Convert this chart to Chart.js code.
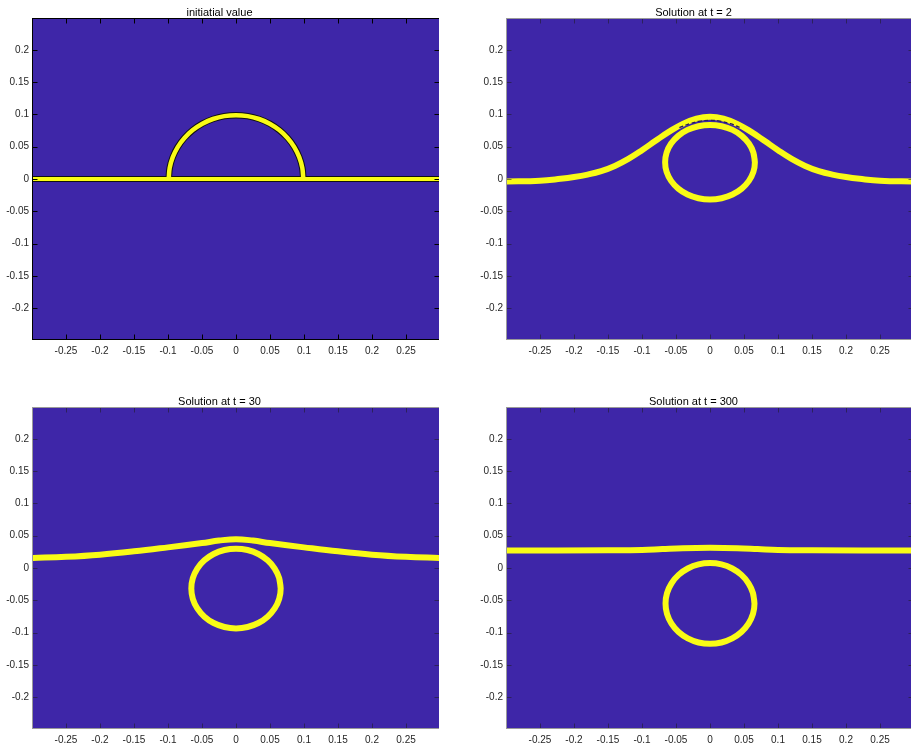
<!DOCTYPE html>
<html>
<head>
<meta charset="utf-8">
<script src="https://cdn.jsdelivr.net/npm/chart.js@4.4.1/dist/chart.umd.min.js"></script>
<style>
html,body{margin:0;padding:0;background:#fff;width:911px;height:747px;overflow:hidden;position:relative}
.p{position:absolute;width:439px;height:369px}
canvas{display:block}
</style>
</head>
<body>
<div class="p" style="left:0;top:0"><canvas id="c1" width="439" height="369"></canvas></div>
<div class="p" style="left:474px;top:0"><canvas id="c2" width="439" height="369"></canvas></div>
<div class="p" style="left:0;top:389px"><canvas id="c3" width="439" height="369"></canvas></div>
<div class="p" style="left:474px;top:389px"><canvas id="c4" width="439" height="369"></canvas></div>
<script>
// ---------- data ----------
const TITLES = ['initiatial value', 'Solution at t = 2', 'Solution at t = 30', 'Solution at t = 300'];
const X_TICKS = [-0.25, -0.2, -0.15, -0.1, -0.05, 0, 0.05, 0.1, 0.15, 0.2, 0.25];
const X_TICK_LABELS = ['-0.25', '-0.2', '-0.15', '-0.1', '-0.05', '0', '0.05', '0.1', '0.15', '0.2', '0.25'];
const Y_TICKS = [-0.2, -0.15, -0.1, -0.05, 0, 0.05, 0.1, 0.15, 0.2];
const Y_TICK_LABELS = ['-0.2', '-0.15', '-0.1', '-0.05', '0', '0.05', '0.1', '0.15', '0.2'];
const X_LIMITS = [-0.2985, 0.2985];
const Y_LIMITS = [-0.248, 0.248];

// panel 1: flat interface plus half-disc cap
const P1_INTERFACE = [[-0.3, 0], [0.3, 0]];
const P1_CAP = [[0.099, 0], [0.0975, 0.0172], [0.093, 0.0339], [0.0857, 0.0495], [0.0758, 0.0636],
  [0.0636, 0.0758], [0.0495, 0.0857], [0.0339, 0.093], [0.0172, 0.0975], [0, 0.099],
  [-0.0172, 0.0975], [-0.0339, 0.093], [-0.0495, 0.0857], [-0.0636, 0.0758], [-0.0758, 0.0636],
  [-0.0857, 0.0495], [-0.093, 0.0339], [-0.0975, 0.0172], [-0.099, 0]];

// panel 2: t = 2
const P2_INTERFACE = [[-0.3, -0.004], [-0.25, -0.0027], [-0.22, 0.0003], [-0.2, 0.003], [-0.18, 0.0068],
  [-0.16, 0.0122], [-0.14, 0.0203], [-0.12, 0.0312], [-0.1, 0.0446], [-0.08, 0.0592], [-0.06, 0.0734],
  [-0.04, 0.0855], [-0.02, 0.0936], [0, 0.0965], [0.02, 0.0936], [0.04, 0.0855], [0.06, 0.0734],
  [0.08, 0.0592], [0.1, 0.0446], [0.12, 0.0312], [0.14, 0.0203], [0.16, 0.0122], [0.18, 0.0068],
  [0.2, 0.003], [0.22, 0.0003], [0.25, -0.0027], [0.3, -0.004]];
const P2_DROP = [[0.066, 0.026], [0.0638, 0.041], [0.0572, 0.0549], [0.0467, 0.0669], [0.033, 0.0761],
  [0.0171, 0.0818], [0, 0.0838], [-0.0171, 0.0818], [-0.033, 0.0761], [-0.0467, 0.0669],
  [-0.0572, 0.0549], [-0.0638, 0.041], [-0.066, 0.026], [-0.0638, 0.011], [-0.0572, -0.0029],
  [-0.0467, -0.0149], [-0.033, -0.0241], [-0.0171, -0.0298], [0, -0.0318], [0.0171, -0.0298],
  [0.033, -0.0241], [0.0467, -0.0149], [0.0572, -0.0029], [0.0638, 0.011], [0.066, 0.026],
  [0.0638, 0.041]];
const P2_GAP = [[-0.045, 0.0795], [-0.03, 0.0857], [-0.015, 0.0897], [0, 0.0908], [0.015, 0.0897],
  [0.03, 0.0857], [0.045, 0.0795]];

// panel 3: t = 30
const P3_INTERFACE = [[-0.3, 0.0155], [-0.25, 0.0174], [-0.2, 0.0207], [-0.15, 0.0258], [-0.1, 0.032],
  [-0.05, 0.0386], [-0.025, 0.0425], [0, 0.0447], [0.025, 0.0425], [0.05, 0.0386], [0.1, 0.032],
  [0.15, 0.0258], [0.2, 0.0207], [0.25, 0.0174], [0.3, 0.0155]];
const P3_DROP = [[0.0657, -0.0318], [0.0635, -0.0158], [0.0569, -0.0009], [0.0465, 0.0119], [0.0329, 0.0217],
  [0.017, 0.0279], [0, 0.03], [-0.017, 0.0279], [-0.0329, 0.0217], [-0.0465, 0.0119],
  [-0.0569, -0.0009], [-0.0635, -0.0158], [-0.0657, -0.0318], [-0.0635, -0.0478], [-0.0569, -0.0627],
  [-0.0465, -0.0755], [-0.0329, -0.0853], [-0.017, -0.0915], [0, -0.0936], [0.017, -0.0915],
  [0.0329, -0.0853], [0.0465, -0.0755], [0.0569, -0.0627], [0.0635, -0.0478], [0.0657, -0.0318],
  [0.0635, -0.0158]];

// panel 4: t = 300
const P4_INTERFACE = [[-0.3, 0.0273], [-0.15, 0.0274], [-0.1, 0.0278], [-0.07, 0.0293], [-0.04, 0.0307],
  [0, 0.0312], [0.04, 0.0307], [0.07, 0.0293], [0.1, 0.0278], [0.15, 0.0274], [0.3, 0.0273]];
const P4_DROP = [[0.0654, -0.055], [0.0632, -0.0388], [0.0566, -0.0237], [0.0462, -0.0107], [0.0327, -0.0008],
  [0.0169, 0.0055], [0, 0.0076], [-0.0169, 0.0055], [-0.0327, -0.0008], [-0.0462, -0.0107],
  [-0.0566, -0.0237], [-0.0632, -0.0388], [-0.0654, -0.055], [-0.0632, -0.0712], [-0.0566, -0.0863],
  [-0.0462, -0.0993], [-0.0327, -0.1092], [-0.0169, -0.1155], [0, -0.1176], [0.0169, -0.1155],
  [0.0327, -0.1092], [0.0462, -0.0993], [0.0566, -0.0863], [0.0632, -0.0712], [0.0654, -0.055],
  [0.0632, -0.0388]];

// ---------- styling / chart construction ----------
const BLUE = '#3e26a8';
const YELLOW = '#f9fb15';
const TEXT = '#262626';
Chart.defaults.font.family = '"Liberation Sans", Arial, Helvetica, sans-serif';
Chart.defaults.color = TEXT;

function pts(a) { return a.map(p => ({x: p[0], y: p[1]})); }
function curve(arr, color, width, extra) {
  return Object.assign({
    data: pts(arr), showLine: true, borderColor: color, backgroundColor: color,
    borderWidth: width, pointRadius: 0, pointHoverRadius: 0, fill: false, clip: 0,
    borderJoinStyle: 'round', borderCapStyle: 'butt', tension: 0, order: 0
  }, extra || {});
}

const framePlugin = {
  id: 'frame',
  beforeDatasetsDraw(chart, args, opts) {
    const {ctx, chartArea: a} = chart;
    ctx.save();
    ctx.fillStyle = opts.background;
    ctx.fillRect(a.left, a.top, a.right - a.left, a.bottom - a.top);
    ctx.restore();
  },
  afterDatasetsDraw(chart, args, opts) {
    const {ctx, chartArea: a, scales: {x, y}} = chart;
    const L = 4.5;
    ctx.save();
    ctx.lineWidth = 1;
    ctx.strokeStyle = opts.tickColor;
    ctx.beginPath();
    x.ticks.forEach(t => {
      const px = Math.round(x.getPixelForValue(t.value)) + 0.5;
      ctx.moveTo(px, a.bottom); ctx.lineTo(px, a.bottom - L);
      ctx.moveTo(px, a.top); ctx.lineTo(px, a.top + L);
    });
    y.ticks.forEach(t => {
      const py = Math.round(y.getPixelForValue(t.value)) + 0.5;
      ctx.moveTo(a.left, py); ctx.lineTo(a.left + L, py);
      ctx.moveTo(a.right, py); ctx.lineTo(a.right - L, py);
    });
    ctx.stroke();
    ctx.strokeStyle = opts.boxColor;
    ctx.strokeRect(Math.round(a.left) - 0.5, Math.round(a.top) - 0.5,
      Math.round(a.right - a.left) + 1, Math.round(a.bottom - a.top) + 1);
    ctx.restore();
  }
};

function makeChart(id, title, datasets, boxColor, tickColor) {
  return new Chart(document.getElementById(id), {
    type: 'scatter',
    data: {datasets},
    plugins: [framePlugin],
    options: {
      responsive: false,
      devicePixelRatio: 1,
      animation: false,
      events: [],
      layout: {padding: 0},
      plugins: {
        legend: {display: false},
        tooltip: {enabled: false},
        title: {
          display: true, text: title, color: '#000',
          font: {size: 11, weight: 'normal', lineHeight: 1},
          padding: {top: 7, bottom: 1}
        },
        frame: {background: BLUE, boxColor, tickColor}
      },
      scales: {
        x: {
          type: 'linear', position: 'bottom', min: X_LIMITS[0], max: X_LIMITS[1],
          grid: {display: false, drawTicks: false}, border: {display: false},
          afterBuildTicks: s => { s.ticks = X_TICKS.map(v => ({value: v})); },
          afterFit: s => { s.height = 30; },
          ticks: {
            autoSkip: false, maxRotation: 0, minRotation: 0, padding: 6, color: TEXT,
            font: {size: 10}, callback: (v, i) => X_TICK_LABELS[i]
          }
        },
        y: {
          type: 'linear', position: 'left', min: Y_LIMITS[0], max: Y_LIMITS[1],
          grid: {display: false, drawTicks: false}, border: {display: false},
          afterBuildTicks: s => { s.ticks = Y_TICKS.map(v => ({value: v})); },
          afterFit: s => { s.width = 33; },
          ticks: {
            autoSkip: false, padding: 4, color: TEXT,
            font: {size: 10}, callback: (v, i) => Y_TICK_LABELS[i]
          }
        }
      }
    }
  });
}

const LOOP_T = 0.335;
const LOOP = {tension: LOOP_T, borderCapStyle: 'round'};
const SMOOTH = {tension: 0.4};

makeChart('c1', TITLES[0], [
  curve(P1_INTERFACE, YELLOW, 4, {order: 0}),
  curve(P1_CAP, YELLOW, 4.5, {order: 0, tension: LOOP_T}),
  curve(P1_INTERFACE, '#111111', 6, {order: 1}),
  curve(P1_CAP, '#111111', 6.5, {order: 1, tension: LOOP_T})
], '#000000', '#000000');

makeChart('c2', TITLES[1], [
  curve(P2_GAP, '#241c5e', 1.3, Object.assign({order: -1, borderDash: [4, 2.5]}, SMOOTH)),
  curve(P2_INTERFACE, YELLOW, 6, SMOOTH),
  curve(P2_DROP, YELLOW, 6, LOOP)
], '#9a9a9a', 'rgba(30,30,30,0.55)');

makeChart('c3', TITLES[2], [
  curve(P3_INTERFACE, YELLOW, 6, SMOOTH),
  curve(P3_DROP, YELLOW, 6, LOOP)
], '#9a9a9a', 'rgba(30,30,30,0.55)');

makeChart('c4', TITLES[3], [
  curve(P4_INTERFACE, YELLOW, 6, SMOOTH),
  curve(P4_DROP, YELLOW, 6, LOOP)
], '#9a9a9a', 'rgba(30,30,30,0.55)');
</script>
</body>
</html>
